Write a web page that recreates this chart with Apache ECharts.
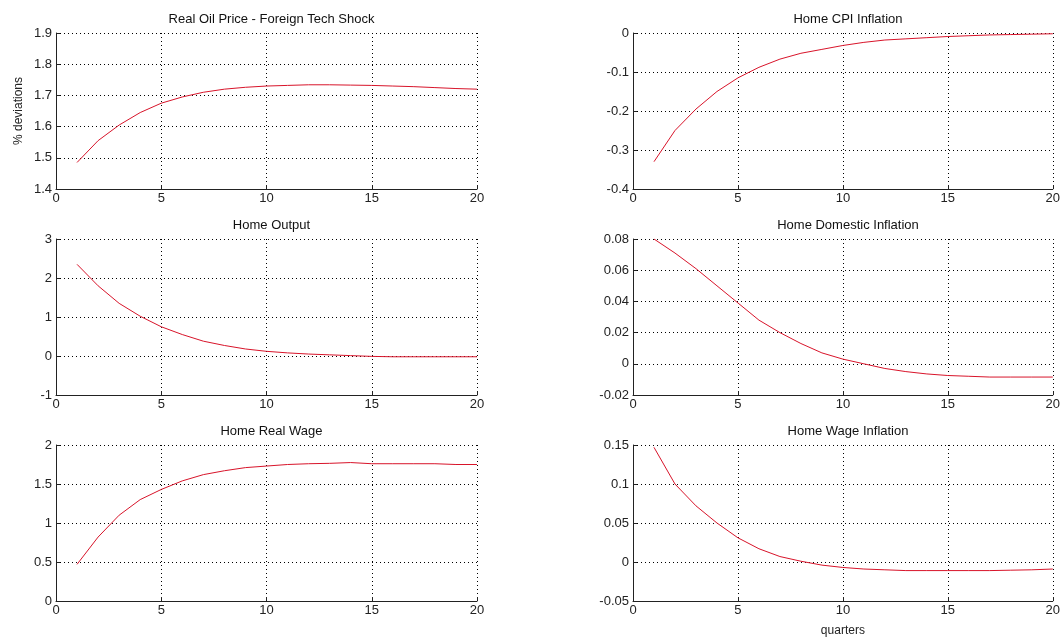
<!DOCTYPE html>
<html>
<head>
<meta charset="utf-8">
<script src="https://cdn.jsdelivr.net/npm/echarts@6/dist/echarts.min.js"></script>
<style>
html,body{margin:0;padding:0;background:#fff;}
#c{width:1063px;height:639px;}
</style>
</head>
<body>
<div id="c"></div>
<script>
const quarters = [1,2,3,4,5,6,7,8,9,10,11,12,13,14,15,16,17,18,19,20];
const titles = ["Real Oil Price - Foreign Tech Shock","Home CPI Inflation","Home Output","Home Domestic Inflation","Home Real Wage","Home Wage Inflation"];
const realOilPrice = [1.485,1.555,1.605,1.645,1.675,1.695,1.71,1.72,1.726,1.73,1.732,1.734,1.734,1.733,1.732,1.73,1.728,1.725,1.722,1.72];
const homeCPIInflation = [-0.33,-0.25,-0.195,-0.15,-0.115,-0.088,-0.067,-0.052,-0.042,-0.032,-0.024,-0.018,-0.015,-0.012,-0.009,-0.007,-0.005,-0.004,-0.003,-0.002];
const homeOutput = [2.35,1.8,1.35,1.02,0.75,0.55,0.38,0.27,0.18,0.12,0.08,0.05,0.03,0.01,-0.01,-0.02,-0.02,-0.02,-0.02,-0.02];
const homeDomesticInflation = [0.08,0.071,0.061,0.05,0.039,0.028,0.02,0.013,0.007,0.003,0.0,-0.003,-0.005,-0.0065,-0.0075,-0.008,-0.0085,-0.0085,-0.0085,-0.0085];
const homeRealWage = [0.47,0.82,1.1,1.3,1.43,1.54,1.62,1.67,1.71,1.73,1.75,1.76,1.765,1.775,1.76,1.76,1.76,1.76,1.75,1.75];
const homeWageInflation = [0.147,0.1,0.072,0.05,0.031,0.017,0.007,0.001,-0.004,-0.007,-0.009,-0.01,-0.011,-0.011,-0.011,-0.011,-0.011,-0.0105,-0.01,-0.009];
const yMins = [1.4,-0.4,-1,-0.02,0,-0.05];
const yMaxs = [1.9,0,3,0.08,2,0.15];
const yIntervals = [0.1,0.1,1,0.02,0.5,0.05];
const seriesData = [realOilPrice,homeCPIInflation,homeOutput,homeDomesticInflation,homeRealWage,homeWageInflation];

const lefts = [56,633];
const widths = [421,420];
const tops = [33,239,445];
const h = 156;
const font = 'Liberation Sans, Arial, sans-serif';

const grid=[], xAxis=[], yAxis=[], series=[], title=[];
for(let i=0;i<6;i++){
  const col=i%2, row=Math.floor(i/2);
  grid.push({left:lefts[col],top:tops[row],width:widths[col],height:h,containLabel:false});
  title.push({text:titles[i],left:lefts[col]+widths[col]/2,top:tops[row]-25,textAlign:'center',
    textStyle:{fontFamily:font,fontSize:13,fontWeight:'normal',color:'#111'}});
  xAxis.push({type:'value',gridIndex:i,min:0,max:20,interval:5,
    axisLine:{show:true,onZero:false,lineStyle:{color:'#222',width:1}},
    axisTick:{show:true,inside:true,length:4,lineStyle:{color:'#222'}},
    axisLabel:{fontFamily:font,fontSize:13,color:'#222',margin:3},
    splitLine:{show:true,lineStyle:{type:[1,3],color:'#000',width:1}},
    name: i===5?'quarters':'', nameLocation:'middle', nameGap:24,
    nameTextStyle:{fontFamily:font,fontSize:12,color:'#222'}});
  yAxis.push({type:'value',gridIndex:i,min:yMins[i],max:yMaxs[i],interval:yIntervals[i],
    axisLine:{show:true,onZero:false,lineStyle:{color:'#222',width:1}},
    axisTick:{show:true,inside:true,length:4,lineStyle:{color:'#222'}},
    axisLabel:{fontFamily:font,fontSize:13,color:'#222',margin:4,
      formatter:v=>String(parseFloat(v.toFixed(4)))},
    splitLine:{show:true,lineStyle:{type:[1,3],color:'#000',width:1}},
    name: i===0?'% deviations':'', nameLocation:'middle', nameGap:31,
    nameTextStyle:{fontFamily:font,fontSize:12,color:'#222'}});
  series.push({type:'line',xAxisIndex:i,yAxisIndex:i,showSymbol:false,symbol:'none',
    data:quarters.map((q,k)=>[q,seriesData[i][k]]),
    lineStyle:{color:'#d8142a',width:1},animation:false});
}
const chart = echarts.init(document.getElementById('c'));
chart.setOption({backgroundColor:'#fff',animation:false,title,grid,xAxis,yAxis,series});
</script>
</body>
</html>
